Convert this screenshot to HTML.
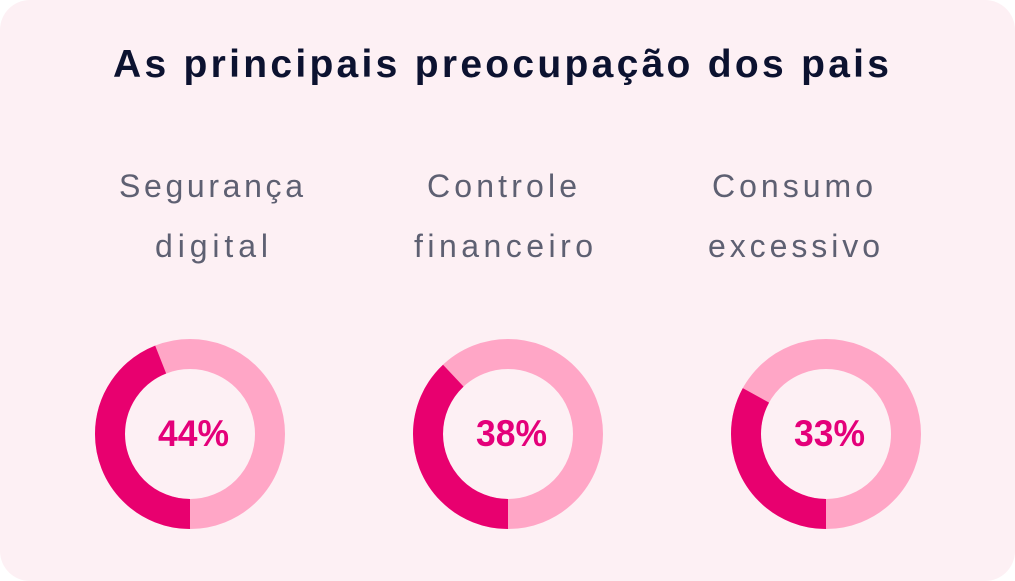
<!DOCTYPE html>
<html><head><meta charset="utf-8"><style>
html,body{margin:0;padding:0;background:#fff;}
svg{display:block;}
</style></head><body>
<svg width="1015" height="581" viewBox="0 0 1015 581" xmlns="http://www.w3.org/2000/svg">
<rect x="0" y="0" width="1015" height="581" rx="30" fill="#fdf0f4"/>
<text x="113" y="77" textLength="776" lengthAdjust="spacing" font-family="Liberation Sans, sans-serif" font-weight="bold" font-size="39" fill="#0c1230">As principais preocupação dos pais</text>
<g font-family="Liberation Sans, sans-serif" font-size="32" fill="#5e6072" lengthAdjust="spacing">
<text x="119" y="197" textLength="184">Segurança</text>
<text x="155" y="257" textLength="113">digital</text>
<text x="427" y="197" textLength="150">Controle</text>
<text x="414" y="257" textLength="179">financeiro</text>
<text x="712" y="197" textLength="161">Consumo</text>
<text x="708" y="257" textLength="172">excessivo</text>
</g>
<g fill="none" stroke-width="30">
<circle cx="190" cy="434" r="80" stroke="#ffa6c6"/>
<circle cx="190" cy="434" r="80" stroke="#e8006f" stroke-dasharray="221.2 400" transform="rotate(90 190 434)"/>
<circle cx="508" cy="434" r="80" stroke="#ffa6c6"/>
<circle cx="508" cy="434" r="80" stroke="#e8006f" stroke-dasharray="191 400" transform="rotate(90 508 434)"/>
<circle cx="826" cy="434" r="80" stroke="#ffa6c6"/>
<circle cx="826" cy="434" r="80" stroke="#e8006f" stroke-dasharray="165.9 400" transform="rotate(90 826 434)"/>
</g>
<g font-family="Liberation Sans, sans-serif" font-weight="bold" font-size="37" fill="#e4007a">
<text x="158" y="446" textLength="71" lengthAdjust="spacingAndGlyphs">44%</text>
<text x="476" y="446" textLength="71" lengthAdjust="spacingAndGlyphs">38%</text>
<text x="794" y="446" textLength="71" lengthAdjust="spacingAndGlyphs">33%</text>
</g>
</svg>
</body></html>
